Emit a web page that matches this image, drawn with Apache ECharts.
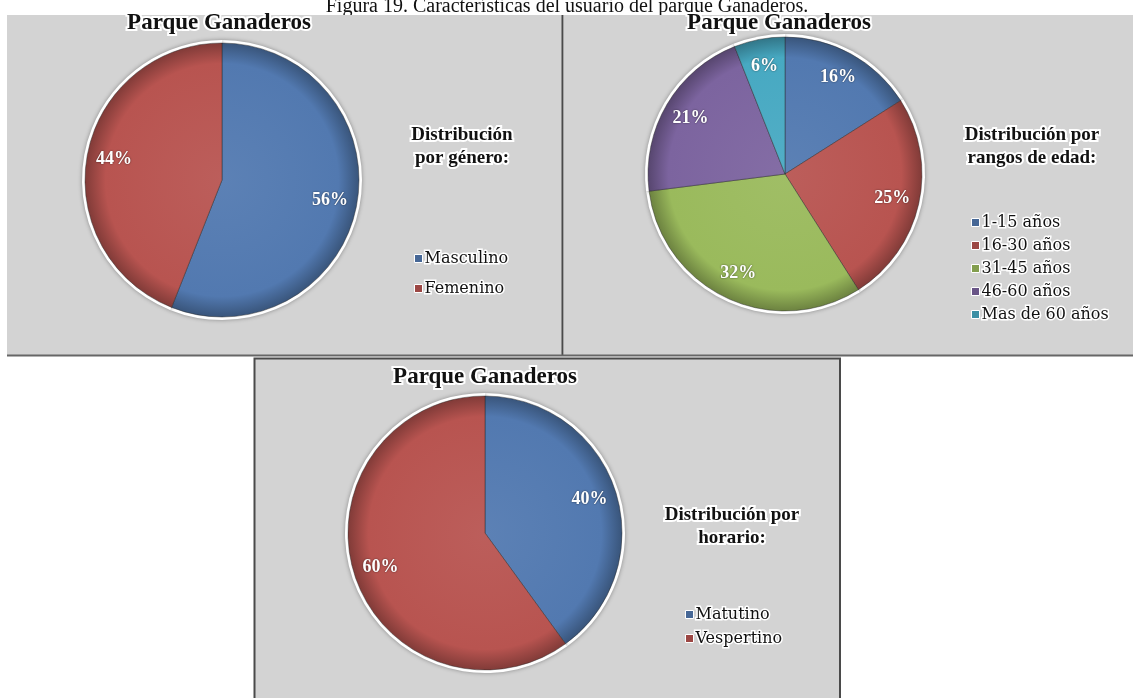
<!DOCTYPE html>
<html>
<head>
<meta charset="utf-8">
<script src="https://cdn.jsdelivr.net/npm/echarts@6/dist/echarts.min.js"></script>
<style>
  html, body { margin: 0; padding: 0; background: #fff; }
  #chart { width: 1133px; height: 698px; }
</style>
</head>
<body>
<div id="chart"></div>
<script>
// datos
var generoLabels = ['Masculino', 'Femenino'];
var generoValues = [56, 44];

var edadLabels = ['1-15 años', '16-30 años', '31-45 años', '46-60 años', 'Mas de 60 años'];
var edadValues = [16, 25, 32, 21, 6];

var horarioLabels = ['Matutino', 'Vespertino'];
var horarioValues = [40, 60];

// paleta tipo Excel 2007
var colores = ['#5279b0', '#b85450', '#9aba5c', '#7c649f', '#47a9c2'];

var chart = echarts.init(document.getElementById('chart'));

function shade(hex, k) {
    var n = parseInt(hex.slice(1), 16);
    var r = (n >> 16) & 255, g = (n >> 8) & 255, b = n & 255;
    function f(v) { return Math.max(0, Math.min(255, Math.round(k > 0 ? v + (255 - v) * k : v * (1 + k)))); }
    return 'rgb(' + f(r) + ',' + f(g) + ',' + f(b) + ')';
}

function serieDatos(labels, values, p) {
    return labels.map(function (name, i) {
        var c = colores[i];
        return {
            name: name,
            value: values[i],
            itemStyle: {
                color: {
                    type: 'radial', x: p.cx, y: p.cy, r: p.r, global: true,
                    colorStops: [
                        { offset: 0, color: shade(c, 0.06) },
                        { offset: 0.85, color: c },
                        { offset: 1, color: shade(c, -0.3) }
                    ]
                }
            }
        };
    });
}

function pieSeries(labels, values, p) {
    return [
        {
            type: 'pie', center: [p.cx, p.cy], radius: p.r,
            startAngle: 90, clockwise: true, z: 3,
            label: { show: false }, labelLine: { show: false },
            itemStyle: { borderColor: 'rgba(40,40,40,0.45)', borderWidth: 1 },
            emphasis: { disabled: true },
            data: serieDatos(labels, values, p)
        },
        {
            // borde blanco exterior
            type: 'pie', center: [p.cx, p.cy], radius: p.r + 3,
            startAngle: 90, silent: true, z: 2,
            label: { show: false }, labelLine: { show: false },
            itemStyle: { color: '#fff', shadowBlur: 4, shadowColor: 'rgba(0,0,0,0.35)' },
            emphasis: { disabled: true },
            data: labels.map(function (n, i) { return { name: n, value: values[i] }; })
        },
        {
            // etiquetas de porcentaje
            type: 'pie', center: [p.cx, p.cy], radius: [p.r * 0.56, p.r],
            startAngle: 90, silent: true, z: 4,
            itemStyle: { color: 'rgba(0,0,0,0)' },
            label: {
                show: true, position: 'inside', formatter: '{c}%',
                color: '#fff', fontFamily: 'Liberation Serif', fontWeight: 'bold', fontSize: 18,
                textShadowColor: 'rgba(0,0,0,0.6)', textShadowBlur: 2
            },
            labelLine: { show: false },
            emphasis: { disabled: true },
            data: labels.map(function (n, i) { return { name: n, value: values[i] }; })
        }
    ];
}

function leyenda(labels, left, top, gap) {
    return {
        orient: 'vertical', left: left, top: top, itemGap: gap,
        icon: 'rect', itemWidth: 8, itemHeight: 8, selectedMode: false,
        textStyle: {
            fontFamily: 'DejaVu Serif', fontSize: 16, color: '#111',
            textBorderColor: '#fff', textBorderWidth: 3, padding: [0, 0, 0, -3]
        },
        data: labels.map(function (n, i) {
            return { name: n, itemStyle: { color: shade(colores[i], -0.15), borderColor: '#fff', borderWidth: 1 } };
        })
    };
}

function texto(str, x, y, size) {
    return {
        type: 'text', z: 10,
        style: {
            text: str, x: x, y: y, align: 'center', verticalAlign: 'middle',
            font: 'bold ' + size + 'px "Liberation Serif"', fill: '#111',
            stroke: '#fff', lineWidth: 4
        }
    };
}

var P1 = { cx: 222, cy: 180, r: 137 };
var P2 = { cx: 785, cy: 174, r: 137 };
var P3 = { cx: 485, cy: 533, r: 137 };

var option = {
    animation: false,
    graphic: [
        { type: 'rect', z: 1, shape: { x: 7, y: 15, width: 555, height: 340 }, style: { fill: '#d3d3d3' } },
        { type: 'rect', z: 1, shape: { x: 564, y: 15, width: 569, height: 340 }, style: { fill: '#d3d3d3' } },
        { type: 'line', z: 1, shape: { x1: 562.5, y1: 15, x2: 562.5, y2: 356 }, style: { stroke: '#4a4a4a', lineWidth: 2 } },
        { type: 'line', z: 1, shape: { x1: 7, y1: 355.5, x2: 1133, y2: 355.5 }, style: { stroke: '#666', lineWidth: 2 } },
        { type: 'rect', z: 1, shape: { x: 254, y: 358, width: 586, height: 340 }, style: { fill: '#d3d3d3' } },
        { type: 'polyline', z: 1, shape: { points: [[254.5, 698], [254.5, 358.5], [840, 358.5], [840, 698]] }, style: { stroke: '#4a4a4a', lineWidth: 2, fill: null } },
        {
            type: 'text', z: 0,
            style: {
                text: 'Figura 19. Características del usuario del parque Ganaderos.',
                x: 567, y: 17, align: 'center', verticalAlign: 'bottom',
                font: '20px "Liberation Serif"', fill: '#111'
            }
        },

        texto('Parque Ganaderos', 219, 23, 23),
        texto('Parque Ganaderos', 779, 23, 23),
        texto('Parque Ganaderos', 485, 377, 23),

        texto('Distribución', 462, 135, 19),
        texto('por género:', 462, 158, 19),
        texto('Distribución por', 1032, 135, 19),
        texto('rangos de edad:', 1032, 158, 19),
        texto('Distribución por', 732, 515, 19),
        texto('horario:', 732, 538, 19)
    ],
    legend: [
        leyenda(generoLabels, 409, 244, 11),
        leyenda(edadLabels, 966, 208, 4),
        leyenda(horarioLabels, 680, 600, 5)
    ],
    series: [].concat(
        pieSeries(generoLabels, generoValues, P1),
        pieSeries(edadLabels, edadValues, P2),
        pieSeries(horarioLabels, horarioValues, P3)
    )
};

chart.setOption(option);
</script>
</body>
</html>
